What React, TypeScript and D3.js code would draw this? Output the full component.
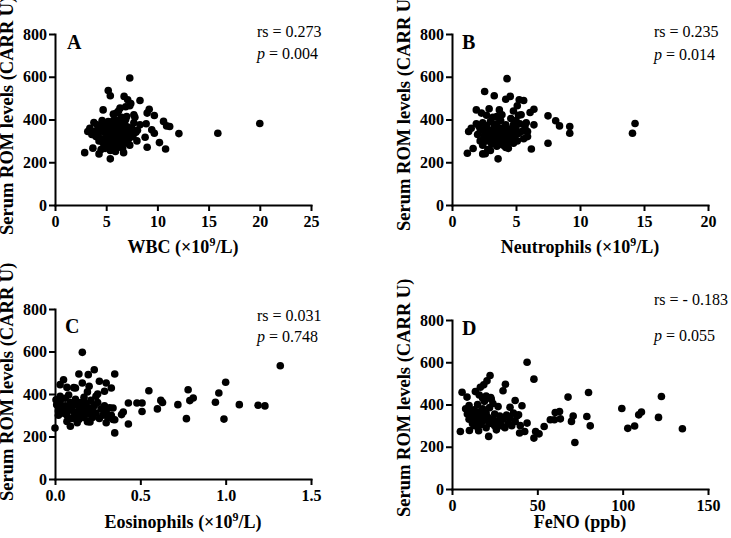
import React, { useEffect, useRef } from 'react';
import * as d3 from 'd3';

// [x value, serum ROM (CARR U)]
const wbcPoints = [
  [7.3, 594], [5.2, 536], [5.4, 511], [6.75, 508], [7.1, 492], [8.3, 489], [4.7, 445], [6.0, 430], [6.35, 453],
  [7.3, 464], [9.0, 430], [9.2, 448], [7.7, 422], [7.0, 414], [9.7, 419], [10.6, 391], [10.9, 370], [11.2, 367],
  [12.1, 334], [9.7, 336], [9.45, 352], [8.9, 380], [8.8, 317], [9.0, 270], [10.2, 292], [10.8, 262], [15.9, 336],
  [20.0, 381], [2.9, 245], [3.7, 266], [4.3, 239], [5.4, 216], [3.2, 344], [3.8, 386], [3.4, 359], [8.05, 350],
  [8.3, 375],
  [4.2, 330], [4.4, 350], [4.5, 310], [4.6, 370], [4.7, 290], [4.8, 340], [4.9, 380], [5.0, 300], [5.0, 355],
  [5.1, 320], [5.1, 275], [5.2, 390], [5.3, 340], [5.3, 300], [5.4, 365], [5.5, 285], [5.5, 325], [5.6, 350],
  [5.6, 260], [5.7, 310], [5.8, 375], [5.8, 290], [5.9, 340], [6.0, 320], [6.0, 270], [6.1, 360], [6.1, 300],
  [6.2, 385], [6.2, 335], [6.3, 280], [6.3, 350], [6.4, 310], [6.5, 370], [6.5, 295], [6.6, 330], [6.6, 265],
  [6.7, 355], [6.8, 305], [6.8, 380], [6.9, 325], [7.0, 290], [7.0, 345], [7.1, 365], [7.2, 310], [7.3, 280],
  [7.4, 335], [7.5, 360], [4.3, 300], [4.6, 395], [4.9, 265], [5.2, 345], [5.7, 395], [6.0, 395], [6.4, 270],
  [6.9, 400], [7.6, 320], [4.0, 320], [4.1, 375], [3.9, 345], [4.5, 260], [5.4, 255], [5.9, 250], [6.7, 245],
  [7.7, 385], [7.9, 340], [3.6, 330], [8.0, 300], [7.8, 410], [6.2, 440], [5.7, 425], [6.5, 410], [6.9, 460],
  [7.4, 475],
];

const neutrophilPoints = [
  [4.3, 591], [2.55, 531], [3.3, 511], [4.55, 508], [4.2, 495], [5.25, 492], [5.6, 489], [1.9, 445], [2.3, 430],
  [2.9, 450], [3.7, 445], [5.1, 464], [3.9, 422], [3.5, 414], [5.4, 422], [6.4, 448], [6.1, 433], [7.5, 417],
  [8.1, 394], [8.4, 370], [9.2, 367], [9.2, 336], [7.5, 289], [6.2, 262], [14.1, 336], [14.3, 381], [1.2, 242],
  [1.65, 264], [2.4, 239], [3.6, 216], [1.3, 344], [1.5, 359], [6.4, 375], [5.9, 320], [5.9, 344], [4.2, 269],
  [4.8, 289],
  [2.0, 330], [2.1, 370], [2.2, 300], [2.3, 350], [2.4, 385], [2.4, 280], [2.5, 320], [2.6, 345], [2.7, 300],
  [2.7, 370], [2.8, 260], [2.9, 330], [3.0, 390], [3.0, 310], [3.1, 350], [3.1, 285], [3.2, 325], [3.3, 365],
  [3.3, 300], [3.4, 340], [3.5, 275], [3.5, 380], [3.6, 315], [3.6, 355], [3.7, 295], [3.8, 335], [3.8, 395],
  [3.9, 360], [4.0, 310], [4.0, 280], [4.1, 345], [4.2, 375], [4.3, 325], [4.4, 295], [4.5, 355], [4.6, 310],
  [4.7, 340], [4.8, 375], [4.9, 320], [5.0, 355], [5.1, 300], [5.2, 335], [5.3, 380], [5.5, 345], [5.6, 310],
  [5.7, 365], [3.2, 410], [2.7, 420], [4.6, 405], [3.0, 255], [2.6, 240], [4.4, 265], [5.0, 395], [5.8, 385],
  [2.2, 355], [1.9, 380], [4.8, 440], [5.2, 420],
];

const eosinophilPoints = [
  [0.16, 596], [1.32, 533], [0.23, 514], [0.195, 491], [0.14, 494], [0.35, 494], [0.26, 460], [0.3, 452],
  [0.33, 428], [0.29, 413], [0.05, 467], [0.03, 444], [0.07, 431], [0.12, 428], [0.16, 452], [0.2, 436],
  [0.24, 389], [0.03, 389], [0.006, 373], [1.0, 455], [0.96, 405], [1.19, 347], [1.23, 344], [1.08, 350],
  [0.94, 361], [0.99, 282], [0.78, 420], [0.79, 369], [0.81, 381], [0.77, 284], [0.72, 350], [0.55, 415],
  [0.62, 370], [0.63, 360], [0.6, 330], [0.48, 358], [0.51, 358], [0.51, 318], [0.43, 358], [0.43, 259],
  [0.4, 315], [0.39, 303], [0.35, 217], [0.0, 240], [0.09, 248], [0.07, 271], [0.205, 268], [0.34, 334],
  [0.35, 279],
  [0.01, 350], [0.02, 320], [0.03, 365], [0.04, 335], [0.05, 310], [0.06, 380], [0.06, 345], [0.07, 300],
  [0.08, 325], [0.09, 360], [0.1, 285], [0.1, 340], [0.11, 315], [0.12, 375], [0.12, 295], [0.13, 350],
  [0.14, 325], [0.14, 280], [0.15, 360], [0.15, 305], [0.16, 340], [0.17, 385], [0.17, 290], [0.18, 320],
  [0.18, 355], [0.19, 270], [0.2, 335], [0.2, 305], [0.21, 370], [0.22, 320], [0.22, 290], [0.23, 345],
  [0.24, 310], [0.25, 360], [0.26, 285], [0.27, 330], [0.28, 300], [0.29, 345], [0.3, 315], [0.31, 290],
  [0.32, 335], [0.33, 300], [0.34, 280], [0.08, 395], [0.11, 430], [0.19, 410], [0.25, 400], [0.02, 300],
  [0.13, 265], [0.3, 265],
];

const fenoPoints = [
  [44, 600], [48, 520], [22.3, 537], [20.5, 512], [18.6, 493], [31.3, 496], [29.9, 465], [5.9, 458], [8.8, 435],
  [13.7, 461], [16.6, 482], [22.7, 433], [37, 419], [41, 394], [34, 387], [39, 351], [68, 435], [80, 457],
  [122.7, 438], [99.5, 381], [121, 339], [111, 364], [109.4, 351], [107, 298], [103, 287], [135, 285], [79, 343],
  [81, 299], [72, 220], [71, 345], [70, 320], [63, 367], [60.5, 362], [60, 328], [63.5, 332], [57.6, 328],
  [54, 296], [51, 261], [49, 272], [48, 241], [44, 312], [42.6, 272], [39.6, 265], [21.5, 249], [4.9, 272],
  [10.2, 277], [15.6, 276],
  [8, 380], [9, 355], [10, 330], [10, 395], [11, 365], [12, 340], [12, 310], [13, 375], [14, 350], [14, 320],
  [15, 295], [15, 400], [16, 365], [17, 335], [17, 305], [18, 380], [18, 350], [19, 415], [19, 325], [20, 290],
  [20, 360], [21, 340], [22, 310], [22, 385], [23, 425], [24, 330], [25, 300], [25, 355], [26, 280], [27, 320],
  [28, 345], [29, 300], [30, 330], [31, 290], [32, 350], [33, 310], [34, 335], [35, 300], [36, 360], [37, 320],
  [38, 345], [40, 300], [16, 445], [18, 430], [20, 440], [24, 405], [27, 390], [13, 300],
];

const romTicks = [0, 200, 400, 600, 800];
const wbcTicks = [0, 5, 10, 15, 20, 25];
const neutrophilTicks = [0, 5, 10, 15, 20];
const eosinophilTicks = [0, 0.5, 1.0, 1.5];
const fenoTicks = [0, 50, 100, 150];

const yTitle = 'Serum ROM levels (CARR U)';
const serif = '"Liberation Serif", "Times New Roman", serif';

const panels = [
  {
    letter: 'A', points: wbcPoints, ticks: wbcTicks, fmt: d3.format('d'), name: 'WBC', sup: true,
    rs: 'rs = 0.273', p: '0.004',
    left: 55, right: 311, top: 34, bottom: 205, yLab: [13, 235], xLabY: 253,
    statX: 257, rsY: 37, pY: 59, letterPos: [67, 49],
  },
  {
    letter: 'B', points: neutrophilPoints, ticks: neutrophilTicks, fmt: d3.format('d'), name: 'Neutrophils', sup: true,
    rs: 'rs = 0.235', p: '0.014',
    left: 452, right: 708, top: 34, bottom: 205, yLab: [410, 231], xLabY: 253,
    statX: 654, rsY: 37, pY: 60, letterPos: [462, 49],
  },
  {
    letter: 'C', points: eosinophilPoints, ticks: eosinophilTicks, fmt: d3.format('.1f'), name: 'Eosinophils', sup: true,
    rs: 'rs = 0.031', p: '0.748',
    left: 55, right: 311, top: 309, bottom: 479, yLab: [13, 501], xLabY: 528,
    statX: 257, rsY: 321, pY: 342, letterPos: [65, 333],
  },
  {
    letter: 'D', points: fenoPoints, ticks: fenoTicks, fmt: d3.format('d'), name: 'FeNO (ppb)', sup: false,
    rs: 'rs = - 0.183', p: '0.055',
    left: 452, right: 708, top: 320, bottom: 489, yLab: [410, 517], xLabY: 528,
    statX: 654, rsY: 305, pY: 341, letterPos: [462, 335],
  },
];

const App = () => {
  const svgRef = useRef(null);

  useEffect(() => {
    const svg = d3.select(svgRef.current);
    svg.selectAll('*').remove();

    panels.forEach(pn => {
      const xMax = pn.ticks[pn.ticks.length - 1];
      const x = d3.scaleLinear().domain([0, xMax]).range([pn.left, pn.right]);
      const y = d3.scaleLinear().domain([0, 800]).range([pn.bottom, pn.top]);
      const g = svg.append('g');

      const xAxis = g.append('g')
        .attr('transform', `translate(0,${pn.bottom})`)
        .call(d3.axisBottom(x).tickValues(pn.ticks).tickFormat(pn.fmt).tickSize(6).tickSizeOuter(0).tickPadding(5));
      const yAxis = g.append('g')
        .attr('transform', `translate(${pn.left},0)`)
        .call(d3.axisLeft(y).tickValues(romTicks).tickSize(6).tickSizeOuter(0).tickPadding(2));

      [xAxis, yAxis].forEach(a => {
        a.attr('font-family', serif).attr('font-size', 16).attr('font-weight', 'bold');
        a.select('.domain').attr('stroke', '#000').attr('stroke-width', 2).attr('stroke-linecap', 'square');
        a.selectAll('.tick line').attr('stroke', '#000').attr('stroke-width', 2);
        a.selectAll('.tick text').attr('fill', '#000');
      });

      // points
      g.selectAll('circle')
        .data(pn.points)
        .enter()
        .append('circle')
        .attr('cx', d => x(d[0]))
        .attr('cy', d => y(d[1]))
        .attr('r', 3.8)
        .attr('fill', '#000');

      // panel letter
      g.append('text')
        .attr('x', pn.letterPos[0]).attr('y', pn.letterPos[1])
        .style('font-family', serif).style('font-size', '20px').style('font-weight', 'bold')
        .text(pn.letter);

      // stats
      g.append('text')
        .attr('x', pn.statX).attr('y', pn.rsY)
        .style('font-family', serif).style('font-size', '16px')
        .text(pn.rs);
      const pt = g.append('text')
        .attr('x', pn.statX).attr('y', pn.pY)
        .style('font-family', serif).style('font-size', '16px');
      pt.append('tspan').style('font-style', 'italic').text('p');
      pt.append('tspan').text(' = ' + pn.p);

      // y title
      g.append('text')
        .attr('transform', `translate(${pn.yLab[0]},${pn.yLab[1]}) rotate(-90)`)
        .style('font-family', serif).style('font-size', '18.5px').style('font-weight', 'bold')
        .text(yTitle);

      // x title
      const xt = g.append('text')
        .attr('x', (pn.left + pn.right) / 2).attr('y', pn.xLabY)
        .attr('text-anchor', 'middle')
        .style('font-family', serif).style('font-size', '18px').style('font-weight', 'bold');
      if (pn.sup) {
        xt.append('tspan').text(pn.name + ' (×10');
        xt.append('tspan').attr('dy', -7).style('font-size', '12px').text('9');
        xt.append('tspan').attr('dy', 7).text('/L)');
      } else {
        xt.text(pn.name);
      }
    });
  }, []);

  return (
    <svg
      ref={svgRef}
      width={731}
      height={538}
      style={{ position: 'absolute', left: 0, top: 0, background: '#fff' }}
    />
  );
};

export default App;
